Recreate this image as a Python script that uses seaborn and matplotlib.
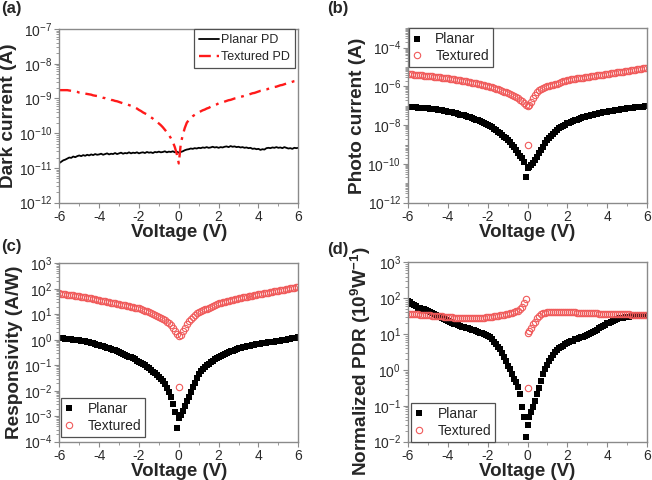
import numpy as np
import pandas as pd
import matplotlib
matplotlib.use("Agg")
import matplotlib.pyplot as plt
import seaborn as sns
from matplotlib.ticker import FixedLocator, MultipleLocator, NullFormatter, LogFormatterSciNotation
from matplotlib.transforms import Bbox, TransformedBbox

# ---------------- data (log10 of the plotted quantity) ----------------
voltage = np.round(np.arange(-60, 61) / 10.0, 1)   # -6.0 ... 6.0 V

# (a) dark current (A)
dark_planar_log = [
    -10.86, -10.82, -10.78, -10.76, -10.73, -10.70, -10.71, -10.67, -10.69, -10.66,
    -10.64, -10.66, -10.63, -10.65, -10.62, -10.64, -10.61, -10.63, -10.60, -10.62,
    -10.61, -10.59, -10.62, -10.60, -10.58, -10.61, -10.59, -10.60, -10.57, -10.60,
    -10.58, -10.56, -10.59, -10.57, -10.58, -10.55, -10.58, -10.56, -10.57, -10.55,
    -10.58, -10.56, -10.55, -10.57, -10.54, -10.56, -10.55, -10.57, -10.54, -10.55,
    -10.53, -10.55, -10.54, -10.52, -10.55, -10.53, -10.54, -10.52, -10.55, -10.53,
    -10.56, -10.54, -10.52, -10.49, -10.47, -10.46, -10.44, -10.45, -10.43, -10.44,
    -10.42, -10.43, -10.41, -10.42, -10.40, -10.42, -10.41, -10.39, -10.41, -10.40,
    -10.42, -10.40, -10.41, -10.39, -10.38, -10.40, -10.37, -10.39, -10.38, -10.40,
    -10.39, -10.41, -10.40, -10.42, -10.41, -10.43, -10.42, -10.45, -10.44, -10.46,
    -10.45, -10.48, -10.46, -10.47, -10.43, -10.42, -10.43, -10.41, -10.42, -10.40,
    -10.42, -10.41, -10.43, -10.40, -10.42, -10.44, -10.43, -10.45, -10.42, -10.43, -10.42]
dark_textured_log = [
    -8.76, -8.76, -8.76, -8.76, -8.76, -8.77, -8.78, -8.79, -8.80, -8.81,
    -8.83, -8.84, -8.85, -8.86, -8.87, -8.88, -8.89, -8.91, -8.92, -8.93,
    -8.95, -8.96, -8.98, -8.99, -9.01, -9.02, -9.04, -9.05, -9.07, -9.08,
    -9.10, -9.12, -9.14, -9.15, -9.17, -9.19, -9.21, -9.23, -9.26, -9.29,
    -9.33, -9.36, -9.40, -9.43, -9.46, -9.50, -9.54, -9.58, -9.63, -9.67,
    -9.72, -9.77, -9.83, -9.90, -9.97, -10.05, -10.14, -10.25, -10.40, -10.60,
    -10.87, -10.30, -10.05, -9.85, -9.70, -9.62, -9.56, -9.51, -9.47, -9.43,
    -9.40, -9.37, -9.34, -9.32, -9.29, -9.27, -9.24, -9.22, -9.19, -9.17,
    -9.14, -9.12, -9.11, -9.09, -9.07, -9.05, -9.04, -9.02, -9.00, -8.99,
    -8.97, -8.95, -8.94, -8.92, -8.90, -8.89, -8.87, -8.85, -8.84, -8.82,
    -8.80, -8.78, -8.77, -8.75, -8.74, -8.72, -8.70, -8.69, -8.67, -8.66,
    -8.64, -8.62, -8.61, -8.59, -8.57, -8.56, -8.54, -8.52, -8.50, -8.49, -8.47]

# (b) photo current (A)
photo_planar_log = [
    -7.04, -7.05, -7.06, -7.07, -7.08, -7.09, -7.10, -7.11, -7.12, -7.12,
    -7.13, -7.14, -7.15, -7.17, -7.18, -7.20, -7.22, -7.24, -7.26, -7.28,
    -7.30, -7.32, -7.34, -7.37, -7.39, -7.42, -7.45, -7.48, -7.50, -7.53,
    -7.56, -7.59, -7.63, -7.67, -7.71, -7.75, -7.80, -7.84, -7.89, -7.94,
    -7.99, -8.05, -8.11, -8.18, -8.26, -8.34, -8.42, -8.51, -8.60, -8.68,
    -8.77, -8.88, -9.00, -9.11, -9.27, -9.45, -9.58, -9.71, -9.88, -10.66,
    -10.23, -10.14, -10.05, -9.94, -9.79, -9.63, -9.45, -9.28, -9.10, -8.93,
    -8.77, -8.65, -8.54, -8.44, -8.34, -8.25, -8.17, -8.10, -8.03, -7.97,
    -7.91, -7.87, -7.83, -7.79, -7.75, -7.71, -7.67, -7.63, -7.59, -7.56,
    -7.53, -7.51, -7.48, -7.46, -7.43, -7.41, -7.39, -7.36, -7.34, -7.32,
    -7.30, -7.28, -7.27, -7.25, -7.23, -7.22, -7.20, -7.18, -7.17, -7.15,
    -7.13, -7.12, -7.11, -7.10, -7.08, -7.07, -7.06, -7.05, -7.04, -7.02, -7.01]
photo_textured_log = [
    -5.36, -5.37, -5.38, -5.39, -5.40, -5.41, -5.42, -5.43, -5.44, -5.45,
    -5.46, -5.47, -5.48, -5.49, -5.50, -5.51, -5.53, -5.54, -5.55, -5.57,
    -5.58, -5.60, -5.62, -5.63, -5.65, -5.67, -5.69, -5.71, -5.72, -5.74,
    -5.76, -5.78, -5.80, -5.82, -5.84, -5.86, -5.89, -5.91, -5.93, -5.96,
    -5.98, -6.01, -6.04, -6.08, -6.11, -6.15, -6.19, -6.23, -6.27, -6.31,
    -6.36, -6.41, -6.46, -6.51, -6.56, -6.61, -6.68, -6.75, -6.84, -6.95,
    -7.01, -6.95, -6.80, -6.62, -6.45, -6.30, -6.20, -6.13, -6.08, -6.04,
    -6.00, -5.98, -5.95, -5.93, -5.89, -5.85, -5.81, -5.77, -5.73, -5.70,
    -5.67, -5.65, -5.63, -5.62, -5.60, -5.59, -5.57, -5.55, -5.54, -5.52,
    -5.50, -5.49, -5.47, -5.46, -5.44, -5.43, -5.42, -5.40, -5.39, -5.37,
    -5.36, -5.34, -5.33, -5.31, -5.29, -5.28, -5.26, -5.24, -5.23, -5.21,
    -5.20, -5.18, -5.16, -5.15, -5.13, -5.11, -5.10, -5.08, -5.06, -5.05, -5.03]
photo_textured_outlier_v = [0.02]
photo_textured_outlier_log = [-9.02]

# (c) responsivity (A/W)
resp_planar_log = [
    0.06, 0.05, 0.05, 0.04, 0.03, 0.03, 0.02, 0.01, 0.00, -0.01,
    -0.02, -0.03, -0.05, -0.06, -0.08, -0.10, -0.12, -0.14, -0.17, -0.19,
    -0.21, -0.23, -0.26, -0.28, -0.31, -0.33, -0.36, -0.39, -0.41, -0.44,
    -0.47, -0.50, -0.54, -0.58, -0.62, -0.66, -0.69, -0.73, -0.77, -0.82,
    -0.86, -0.91, -0.96, -1.01, -1.06, -1.12, -1.18, -1.25, -1.31, -1.38,
    -1.45, -1.53, -1.63, -1.74, -1.88, -2.05, -2.24, -2.52, -2.82, -3.48,
    -3.06, -2.96, -2.78, -2.58, -2.40, -2.24, -2.04, -1.86, -1.68, -1.50,
    -1.34, -1.24, -1.15, -1.07, -1.00, -0.94, -0.88, -0.82, -0.76, -0.71,
    -0.66, -0.62, -0.59, -0.55, -0.52, -0.49, -0.46, -0.43, -0.40, -0.37,
    -0.34, -0.32, -0.30, -0.28, -0.26, -0.25, -0.23, -0.21, -0.20, -0.18,
    -0.17, -0.16, -0.14, -0.13, -0.12, -0.10, -0.09, -0.08, -0.07, -0.05,
    -0.04, -0.03, -0.02, -0.01, 0.01, 0.02, 0.04, 0.05, 0.06, 0.08, 0.09]
resp_textured_log = [
    1.82, 1.81, 1.80, 1.79, 1.77, 1.76, 1.75, 1.74, 1.72, 1.71,
    1.70, 1.69, 1.67, 1.66, 1.64, 1.63, 1.62, 1.60, 1.59, 1.57,
    1.56, 1.54, 1.53, 1.51, 1.50, 1.48, 1.46, 1.45, 1.43, 1.42,
    1.40, 1.38, 1.37, 1.35, 1.33, 1.32, 1.30, 1.28, 1.26, 1.25,
    1.23, 1.20, 1.17, 1.14, 1.11, 1.08, 1.05, 1.01, 0.98, 0.95,
    0.91, 0.87, 0.82, 0.77, 0.71, 0.64, 0.56, 0.47, 0.36, 0.24,
    0.13, 0.20, 0.36, 0.48, 0.62, 0.75, 0.83, 0.91, 0.98, 1.04,
    1.10, 1.13, 1.16, 1.19, 1.22, 1.25, 1.29, 1.33, 1.37, 1.40,
    1.43, 1.45, 1.47, 1.49, 1.51, 1.53, 1.55, 1.57, 1.59, 1.61,
    1.62, 1.64, 1.66, 1.67, 1.69, 1.70, 1.72, 1.73, 1.75, 1.76,
    1.78, 1.79, 1.81, 1.82, 1.84, 1.85, 1.87, 1.88, 1.90, 1.91,
    1.93, 1.94, 1.96, 1.97, 1.99, 2.00, 2.02, 2.03, 2.05, 2.06, 2.08]
resp_textured_outlier_v = [0.03]
resp_textured_outlier_log = [-1.84]

# (d) normalized PDR (10^9 W^-1)
pdr_planar_log = [
    1.93, 1.88, 1.84, 1.80, 1.78, 1.74, 1.72, 1.70, 1.69, 1.66,
    1.65, 1.62, 1.60, 1.56, 1.54, 1.50, 1.48, 1.44, 1.42, 1.38,
    1.36, 1.34, 1.31, 1.29, 1.27, 1.25, 1.23, 1.21, 1.19, 1.18,
    1.16, 1.14, 1.12, 1.10, 1.08, 1.06, 1.04, 1.02, 1.00, 0.98,
    0.95, 0.92, 0.86, 0.79, 0.72, 0.65, 0.57, 0.47, 0.37, 0.24,
    0.12, 0.02, -0.10, -0.24, -0.35, -0.48, -0.68, -1.02, -1.30, -1.86,
    -1.54, -1.30, -1.18, -1.02, -0.86, -0.68, -0.49, -0.30, -0.10, 0.03,
    0.14, 0.25, 0.34, 0.42, 0.50, 0.56, 0.60, 0.64, 0.68, 0.71,
    0.74, 0.77, 0.80, 0.82, 0.85, 0.87, 0.89, 0.91, 0.93, 0.95,
    0.97, 1.00, 1.03, 1.06, 1.09, 1.12, 1.16, 1.19, 1.23, 1.26,
    1.30, 1.32, 1.35, 1.37, 1.40, 1.42, 1.44, 1.45, 1.46, 1.47,
    1.47, 1.48, 1.50, 1.49, 1.51, 1.52, 1.51, 1.53, 1.53, 1.54, 1.54]
pdr_textured_log = [
    1.57, 1.57, 1.56, 1.56, 1.55, 1.55, 1.54, 1.54, 1.53, 1.53,
    1.52, 1.52, 1.51, 1.51, 1.50, 1.50, 1.49, 1.49, 1.48, 1.48,
    1.47, 1.47, 1.47, 1.46, 1.46, 1.46, 1.45, 1.45, 1.45, 1.45,
    1.45, 1.45, 1.45, 1.45, 1.45, 1.45, 1.46, 1.46, 1.46, 1.47,
    1.47, 1.48, 1.48, 1.49, 1.50, 1.51, 1.52, 1.53, 1.54, 1.55,
    1.56, 1.58, 1.59, 1.61, 1.63, 1.65, 1.69, 1.76, 1.86, 1.97,
    1.02, 1.08, 1.18, 1.28, 1.35, 1.44, 1.50, 1.55, 1.58, 1.60,
    1.61, 1.61, 1.62, 1.62, 1.62, 1.62, 1.62, 1.62, 1.62, 1.62,
    1.62, 1.62, 1.61, 1.61, 1.61, 1.60, 1.60, 1.60, 1.59, 1.59,
    1.59, 1.59, 1.58, 1.58, 1.58, 1.58, 1.57, 1.57, 1.57, 1.57,
    1.57, 1.56, 1.56, 1.56, 1.56, 1.56, 1.55, 1.55, 1.55, 1.55,
    1.55, 1.55, 1.54, 1.54, 1.54, 1.54, 1.54, 1.54, 1.53, 1.53, 1.53]
pdr_textured_outlier_v = [0.02]
pdr_textured_outlier_log = [-0.51]

series_labels = ["Planar", "Textured"]
dark_labels = ["Planar PD", "Textured PD"]
xticks = [-6, -4, -2, 0, 2, 4, 6]

# ---------------- style ----------------
sns.set_theme(style="ticks")
plt.rcParams.update({
    "font.family": ["Liberation Sans", "DejaVu Sans"],
    "mathtext.fontset": "custom",
    "mathtext.rm": "Liberation Sans",
    "mathtext.it": "Liberation Sans:italic",
    "mathtext.bf": "Liberation Sans:bold",
    "mathtext.default": "regular",
    "axes.unicode_minus": False,
})

W, H = 652, 480
fig = plt.figure(figsize=(W / 100, H / 100), dpi=100)


def px_axes(l, t, r, b):
    return fig.add_axes([l / W, 1 - b / H, (r - l) / W, (b - t) / H])


ax_a = px_axes(59.3, 29.0, 298.3, 202.7)
ax_b = px_axes(408.0, 28.3, 647.0, 202.7)
ax_c = px_axes(59.3, 263.3, 298.3, 441.7)
ax_d = px_axes(408.0, 262.3, 647.0, 441.7)

GRAY = "#8a8a8a"
RED_LINE = "#ff1a1a"
RED_MK = "#f05a5a"


def style_axes(ax, ymin_exp, ymax_exp, major_exps, ylabel):
    ax.set_yscale("log")
    ax.set_xlim(-6, 6)
    ax.set_ylim(10.0 ** ymin_exp, 10.0 ** ymax_exp)
    ax.xaxis.set_major_locator(FixedLocator(xticks))
    ax.xaxis.set_minor_locator(MultipleLocator(1))
    ax.yaxis.set_major_locator(FixedLocator([10.0 ** e for e in major_exps]))
    ax.yaxis.set_major_formatter(LogFormatterSciNotation())
    minors = []
    for e in range(ymin_exp, ymax_exp + 1):
        for s in range(1, 10):
            v = s * 10.0 ** e
            if e not in major_exps or s != 1:
                if v <= 10.0 ** ymax_exp * 1.0001:
                    minors.append(v)
    ax.yaxis.set_minor_locator(FixedLocator(minors))
    ax.yaxis.set_minor_formatter(NullFormatter())
    for sp in ax.spines.values():
        sp.set_visible(True)
        sp.set_color(GRAY)
        sp.set_linewidth(1.0)
    ax.tick_params(which="major", direction="out", length=3.5, width=0.8,
                   color=GRAY, labelsize=10, labelcolor="#2a2a2a", pad=1.5)
    ax.tick_params(which="minor", direction="out", length=2.0, width=0.6, color=GRAY)
    ax.set_xlabel("Voltage (V)", fontsize=13.5, fontweight="bold", labelpad=0)
    ax.set_ylabel(ylabel, fontsize=13.7, fontweight="bold", labelpad=1)
    ax.grid(False)


def scatter_pair(ax, planar_log, textured_log, out_v, out_log):
    dfp = pd.DataFrame({"V": voltage, "y": 10.0 ** np.array(planar_log)})
    dft = pd.DataFrame({"V": voltage, "y": 10.0 ** np.array(textured_log)})
    dfo = pd.DataFrame({"V": out_v, "y": 10.0 ** np.array(out_log)})
    sns.lineplot(data=dfp, x="V", y="y", ax=ax, estimator=None, sort=False,
                 linestyle="", marker="s", markersize=4.0, markeredgewidth=0,
                 color="black", label=series_labels[0])
    sns.lineplot(data=dft, x="V", y="y", ax=ax, estimator=None, sort=False,
                 linestyle="", marker="o", markersize=4.6, markeredgewidth=0.8,
                 markerfacecolor="none", markeredgecolor=RED_MK, color=RED_MK,
                 label=series_labels[1])
    sns.lineplot(data=dfo, x="V", y="y", ax=ax, estimator=None, sort=False,
                 linestyle="", marker="o", markersize=4.6, markeredgewidth=0.8,
                 markerfacecolor="none", markeredgecolor=RED_MK, color=RED_MK)


def add_legend(ax, loc, anchor, fontsize):
    leg = ax.legend(loc=loc, bbox_to_anchor=anchor, borderaxespad=0,
                    fontsize=fontsize, frameon=True, fancybox=False,
                    edgecolor="#505050", framealpha=1, handlelength=0.5,
                    handletextpad=1.1, labelspacing=0.2, borderpad=0.3,
                    numpoints=1)
    leg.get_frame().set_linewidth(0.9)
    return leg


# (a)
df_a1 = pd.DataFrame({"V": voltage, "y": 10.0 ** np.array(dark_planar_log)})
df_a2 = pd.DataFrame({"V": voltage, "y": 10.0 ** np.array(dark_textured_log)})
sns.lineplot(data=df_a1, x="V", y="y", ax=ax_a, estimator=None, sort=False,
             color="black", linewidth=1.3, label=dark_labels[0])
sns.lineplot(data=df_a2, x="V", y="y", ax=ax_a, estimator=None, sort=False,
             color=RED_LINE, linewidth=1.7, linestyle=(0, (5, 2.5, 1.2, 2.5)),
             label=dark_labels[1])
style_axes(ax_a, -12, -7, list(range(-12, -6)), "Dark current (A)")
leg_a = ax_a.legend(loc="upper right", bbox_to_anchor=(0.987, 1.0), borderaxespad=0,
                    fontsize=9, frameon=True, fancybox=False, edgecolor="#505050",
                    framealpha=1, handlelength=1.6, handletextpad=0.15,
                    labelspacing=0.4, borderpad=0.4)
leg_a.get_frame().set_linewidth(0.9)

# (b)
scatter_pair(ax_b, photo_planar_log, photo_textured_log,
             photo_textured_outlier_v, photo_textured_outlier_log)
style_axes(ax_b, -12, -3, [-12, -10, -8, -6, -4], "Photo current (A)")
add_legend(ax_b, "upper left", (0.004, 1.0), 10)

# (c)
scatter_pair(ax_c, resp_planar_log, resp_textured_log,
             resp_textured_outlier_v, resp_textured_outlier_log)
style_axes(ax_c, -4, 3, list(range(-4, 4)), "Responsivity (A/W)")
add_legend(ax_c, "lower left", (0.008, 0.026), 10)

# (d)
scatter_pair(ax_d, pdr_planar_log, pdr_textured_log,
             pdr_textured_outlier_v, pdr_textured_outlier_log)
style_axes(ax_d, -2, 3, list(range(-2, 4)),
           r"Normalized PDR (10$^\mathbf{9}$W$^\mathbf{-1}$)")
add_legend(ax_d, "lower left", (0.013, 0.0), 10)
ax_d.yaxis.set_label_coords(-0.148, 0.45)
lab = ax_d.yaxis.label
lab.set_clip_on(True)
lab.set_clip_box(TransformedBbox(Bbox.from_bounds(0, 0, 1, 1 - 237 / H), fig.transFigure))

# panel letters
for txt, x, y in [("(a)", 1, 1), ("(b)", 327, 1), ("(c)", 1, 239), ("(d)", 327, 242)]:
    fig.text(x / W, 1 - y / H, txt, fontsize=12, fontweight="bold", ha="left", va="top")

fig.savefig("out.png", dpi=100)
